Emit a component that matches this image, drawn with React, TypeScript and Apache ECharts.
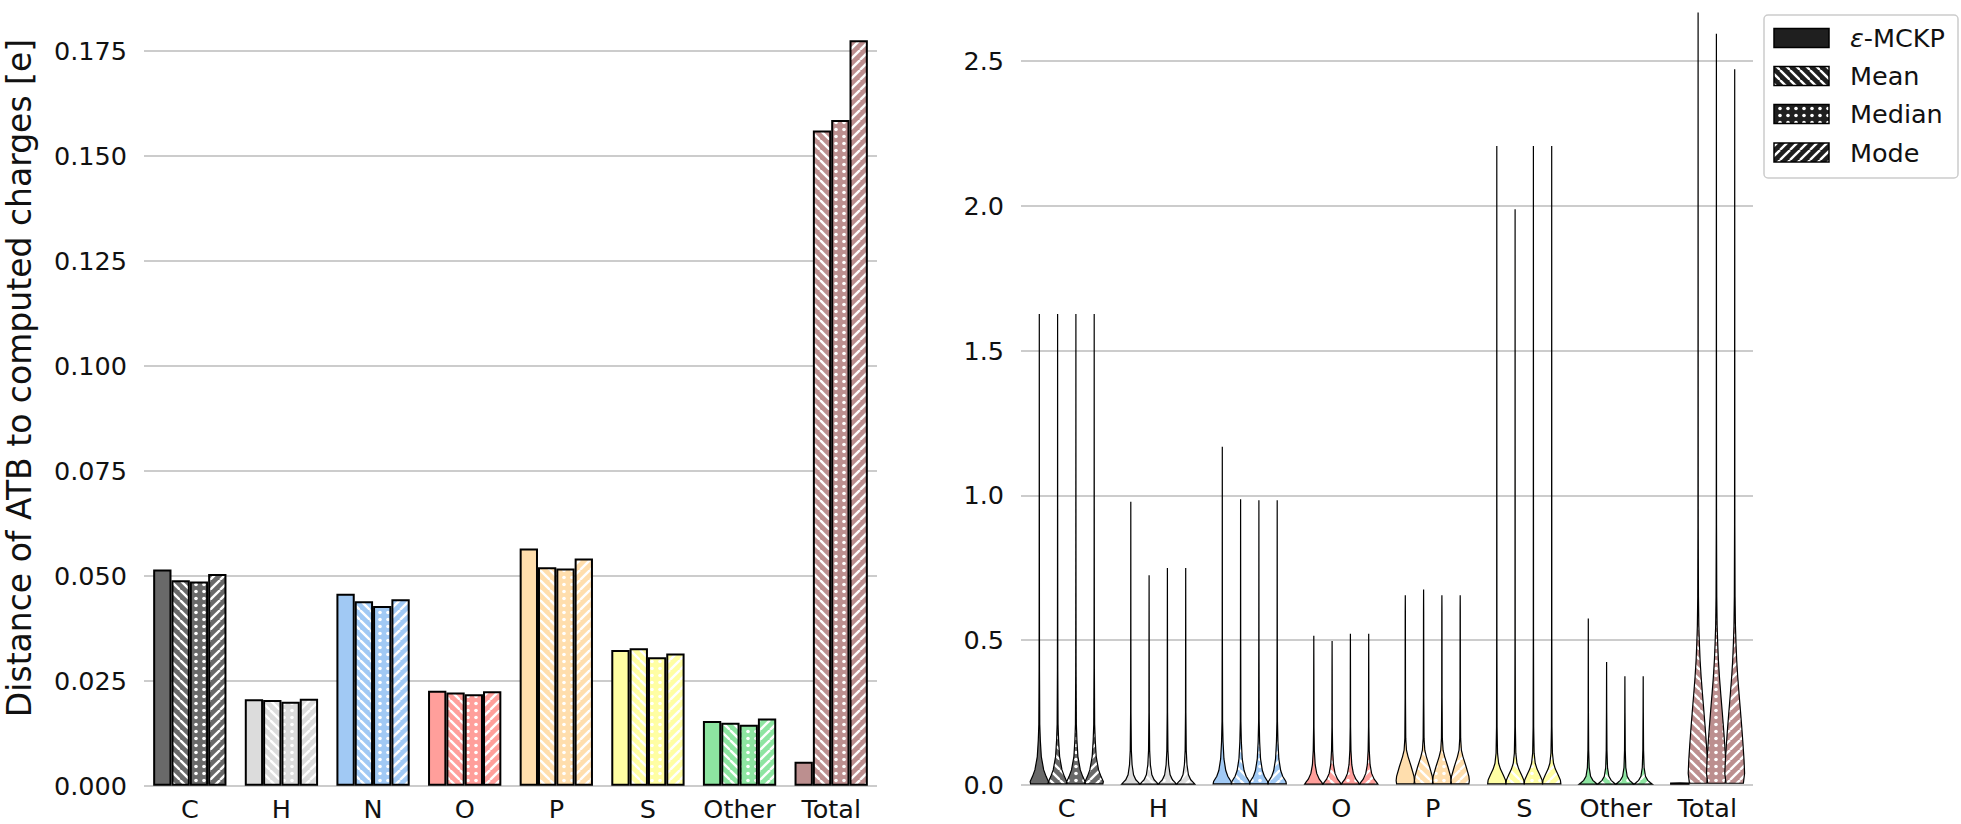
import React, { useEffect, useRef } from 'react';
import * as echarts from 'echarts';

const categories = ['C', 'H', 'N', 'O', 'P', 'S', 'Other', 'Total'];
const methods = ['ε-MCKP', 'Mean', 'Median', 'Mode'];
const colors = ['#696969', '#dcdcdc', '#a1c9f4', '#ff9f9b', '#ffdead', '#fffea3', '#8de5a1', '#bc8f8f'];

// Left panel: mean distance per element
const barEps = [0.0515, 0.0206, 0.0457, 0.0226, 0.0565, 0.0323, 0.0154, 0.0057];
const barMean = [0.0489, 0.0204, 0.0439, 0.0222, 0.052, 0.0327, 0.015, 0.156];
const barMedian = [0.0486, 0.02, 0.0428, 0.0218, 0.0517, 0.0306, 0.0145, 0.1585];
const barMode = [0.0504, 0.0207, 0.0444, 0.0225, 0.0541, 0.0315, 0.016, 0.1775];

// Right panel: violin maxima
const violinEpsMax = [1.626, 0.978, 1.168, 0.515, 0.655, 2.206, 0.575, 0.007];
const violinMeanMax = [1.626, 0.724, 0.987, 0.497, 0.675, 1.988, 0.4245, 2.667];
const violinMedianMax = [1.626, 0.749, 0.983, 0.522, 0.655, 2.206, 0.3755, 2.594];
const violinModeMax = [1.626, 0.749, 0.983, 0.522, 0.655, 2.206, 0.3755, 2.471];

// Violin outlines: [value, relative half width]
const profileC = [[0.004, 0.95], [0.012, 1.0], [0.029, 0.75], [0.052, 0.48], [0.098, 0.22], [0.155, 0.11], [0.21, 0.05], [0.4, 0.02], [0.8, 0.01]];
const profileH = [[0.003, 1.0], [0.01, 0.8], [0.018, 0.55], [0.035, 0.3], [0.07, 0.14], [0.12, 0.06], [0.25, 0.02], [0.5, 0.01]];
const profileN = [[0.004, 1.0], [0.012, 0.95], [0.03, 0.6], [0.05, 0.38], [0.09, 0.18], [0.15, 0.08], [0.22, 0.03], [0.5, 0.012]];
const profileO = [[0.003, 1.0], [0.01, 0.85], [0.02, 0.6], [0.04, 0.32], [0.07, 0.15], [0.12, 0.06], [0.2, 0.02], [0.4, 0.01]];
const profileP = [[0.004, 0.95], [0.015, 1.0], [0.03, 0.95], [0.063, 0.65], [0.098, 0.3], [0.12, 0.13], [0.16, 0.05], [0.3, 0.02], [0.6, 0.01]];
const profileS = [[0.004, 1.0], [0.017, 0.95], [0.034, 0.72], [0.055, 0.4], [0.075, 0.2], [0.11, 0.08], [0.2, 0.03], [0.5, 0.012]];
const profileOther = [[0.003, 1.0], [0.008, 0.8], [0.016, 0.5], [0.03, 0.25], [0.06, 0.1], [0.12, 0.04], [0.25, 0.015]];
const profileTotal = [[0.006, 0.95], [0.04, 1.08], [0.086, 1.02], [0.144, 0.9], [0.2, 0.77], [0.26, 0.62], [0.317, 0.47], [0.374, 0.33], [0.43, 0.22], [0.49, 0.14], [0.55, 0.08], [0.65, 0.04], [0.9, 0.015], [1.5, 0.008]];
const profileTotalEps = [[0.003, 1.0], [0.0065, 1.0]];

const profiles: Record<string, number[][]> = {
  C: profileC, H: profileH, N: profileN, O: profileO, P: profileP, S: profileS, Other: profileOther, Total: profileTotal,
};

const FONT = 'DejaVu Sans';
const FS = 25.5;

type Kind = 'none' | 'back' | 'dots' | 'fwd';
const kinds: Kind[] = ['none', 'back', 'dots', 'fwd'];

function makePattern(bg: string, kind: Kind, fg = '#ffffff'): any {
  if (kind === 'none') return bg;
  const c = document.createElement('canvas');
  let w = 10, h = 10;
  if (kind === 'dots') { w = 8; h = 7; }
  c.width = w; c.height = h;
  const ctx = c.getContext('2d')!;
  ctx.fillStyle = bg;
  ctx.fillRect(0, 0, w, h);
  ctx.strokeStyle = fg;
  ctx.fillStyle = fg;
  ctx.lineWidth = 2.4;
  if (kind === 'back') {
    for (const x of [-w, 0, w]) { ctx.beginPath(); ctx.moveTo(x, 0); ctx.lineTo(x + w, h); ctx.stroke(); }
  } else if (kind === 'fwd') {
    for (const x of [-w, 0, w]) { ctx.beginPath(); ctx.moveTo(x, h); ctx.lineTo(x + w, 0); ctx.stroke(); }
  } else {
    ctx.beginPath(); ctx.arc(w / 2, h / 2, 1.8, 0, Math.PI * 2); ctx.fill();
  }
  return { image: c, repeat: 'repeat', imageWidth: w, imageHeight: h };
}

export default function App() {
  const ref = useRef<HTMLDivElement>(null);
  useEffect(() => {
    document.body.style.margin = '0';
    if (!ref.current) return;
    const chart = echarts.init(ref.current, null, { renderer: 'svg' });

    const fills = colors.map((c) => kinds.map((k) => makePattern(c, k)));
    const barSets = [barEps, barMean, barMedian, barMode];
    const violinSets = [violinEpsMax, violinMeanMax, violinMedianMax, violinModeMax];

    const barSeries = barSets.map((vals, m) => ({
      type: 'bar',
      name: methods[m],
      xAxisIndex: 0,
      yAxisIndex: 0,
      barGap: '0%',
      barCategoryGap: '20%',
      silent: true,
      itemStyle: { borderColor: '#000', borderWidth: 2 },
      data: vals.map((v, i) => ({ value: v, itemStyle: { color: fills[i][m] } })),
    }));

    const violinSeries = violinSets.map((vals, m) => ({
      type: 'custom',
      name: methods[m] + ' dist',
      xAxisIndex: 1,
      yAxisIndex: 1,
      silent: true,
      encode: { x: 0, y: 1 },
      data: vals.map((v, i) => [i, v]),
      renderItem: (params: any, api: any) => {
        const ci = api.value(0) as number;
        const mx = api.value(1) as number;
        const base = api.coord([ci, 0]);
        const band = api.size([1, 0])[0];
        const hs = band * 0.1;
        const cx = base[0] + (m - 1.5) * band * 0.2;
        const prof = m === 0 && categories[ci] === 'Total' ? profileTotalEps : profiles[categories[ci]];
        const right: number[][] = [];
        const left: number[][] = [];
        for (const [v, r] of prof) {
          if (v >= mx) break;
          const y = api.coord([ci, v])[1];
          right.push([cx + r * hs, y]);
          left.push([cx - r * hs, y]);
        }
        const top = api.coord([ci, mx])[1];
        const pts = [...right, [cx, top], ...left.reverse()];
        return {
          type: 'polygon',
          shape: { points: pts },
          style: { fill: fills[ci][m], stroke: '#000', lineWidth: 1.2 },
        };
      },
    }));

    const legendY = [38, 76, 114, 152.5];
    const legendGraphics: any[] = [
      {
        type: 'rect',
        shape: { x: 1764, y: 15, width: 194, height: 163, r: 4 },
        style: { fill: 'rgba(255,255,255,0.8)', stroke: '#cccccc', lineWidth: 1.5 },
      },
    ];
    methods.forEach((name, m) => {
      legendGraphics.push({
        type: 'rect',
        shape: { x: 1774, y: legendY[m] - 9.5, width: 55, height: 19 },
        style: { fill: makePattern('#1f1f1f', kinds[m]), stroke: '#000', lineWidth: 1.5 },
      });
      legendGraphics.push({
        type: 'text',
        x: 1850,
        y: legendY[m],
        style: m === 0
          ? {
              text: '{i|ε}-MCKP',
              fontFamily: FONT,
              fontSize: FS,
              fill: '#111',
              verticalAlign: 'middle',
              rich: { i: { fontStyle: 'italic', fontFamily: FONT, fontSize: FS, fill: '#111' } },
            }
          : { text: name, fontFamily: FONT, fontSize: FS, fill: '#111', verticalAlign: 'middle' },
      });
    });

    const yAxisCommon = {
      type: 'value',
      min: 0,
      axisLine: { show: false },
      axisTick: { show: false },
      splitLine: { show: true, showMaxLine: false, lineStyle: { color: '#cccccc', width: 2 } },
    };
    const xAxisCommon = {
      type: 'category',
      data: categories,
      axisLine: { show: false },
      axisTick: { show: false },
      axisLabel: { interval: 0, fontFamily: FONT, fontSize: FS, lineHeight: 20, color: '#111', margin: 13 },
    };

    chart.setOption({
      animation: false,
      grid: [
        { left: 144, width: 733, top: 4.5, height: 781.2, outerBoundsMode: 'none' },
        { left: 1021, width: 732, top: 4.5, height: 780.5, outerBoundsMode: 'none' },
      ],
      xAxis: [
        { ...xAxisCommon, gridIndex: 0 },
        { ...xAxisCommon, gridIndex: 1 },
      ],
      yAxis: [
        {
          ...yAxisCommon,
          gridIndex: 0,
          max: 0.186,
          interval: 0.025,
          axisLabel: {
            fontFamily: FONT, fontSize: FS, color: '#111', margin: 17, showMaxLabel: false,
            formatter: (v: number) => v.toFixed(3),
          },
        },
        {
          ...yAxisCommon,
          gridIndex: 1,
          max: 2.695,
          interval: 0.5,
          axisLabel: {
            fontFamily: FONT, fontSize: FS, color: '#111', margin: 17, showMaxLabel: false,
            formatter: (v: number) => v.toFixed(1),
          },
        },
      ],
      graphic: [
        {
          type: 'text',
          x: 19.5,
          y: 378,
          rotation: Math.PI / 2,
          style: {
            text: 'Distance of ATB to computed charges [e]',
            fontFamily: FONT,
            fontSize: 33,
            lineHeight: 34,
            fill: '#111',
            align: 'center',
            verticalAlign: 'middle',
          },
        },
        ...legendGraphics,
      ],
      series: [...barSeries, ...violinSeries],
    });

    return () => chart.dispose();
  }, []);
  return <div ref={ref} style={{ width: 1961, height: 824 }} />;
}
